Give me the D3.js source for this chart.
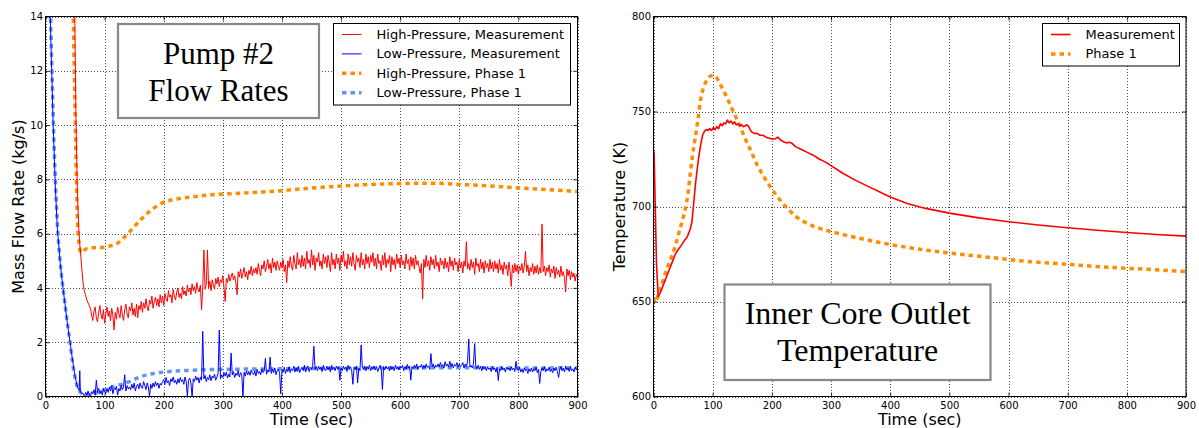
<!DOCTYPE html>
<html lang="en">
<head>
<meta charset="utf-8">
<title>Pump #2 Flow Rates / Inner Core Outlet Temperature</title>
<script src="https://d3js.org/d3.v7.min.js"></script>
<style>
  body { margin: 0; background: #fff; }
  svg { display: block; font-family: "DejaVu Sans", sans-serif; }
</style>
</head>
<body>
<svg width="1199" height="428"></svg>
<script>
// ---------- left panel: pump #2 flow rates (kg/s) ----------
const timeTicks = [0, 100, 200, 300, 400, 500, 600, 700, 800, 900];
const flowTicks = [0, 2, 4, 6, 8, 10, 12, 14];

// high-pressure, phase 1 (orange dotted)
const hpPhaseTime = [44, 47, 50.5, 54, 57, 60, 65, 70, 80, 90, 100, 110, 120, 130, 143, 150, 160, 167, 175, 185, 197, 210, 229, 250, 281, 320, 379, 440, 503, 560, 608, 650, 705, 750, 803, 850, 900];
const hpPhaseValue = [18, 14, 10, 6.5, 5.6, 5.3, 5.38, 5.45, 5.48, 5.48, 5.5, 5.55, 5.62, 5.8, 6.08, 6.25, 6.5, 6.63, 6.8, 6.97, 7.13, 7.22, 7.3, 7.36, 7.43, 7.48, 7.55, 7.66, 7.76, 7.82, 7.85, 7.86, 7.81, 7.76, 7.68, 7.62, 7.55];

// low-pressure, phase 1 (light blue dotted)
const lpPhaseTime = [4, 8.5, 11, 13.5, 17, 20.5, 25, 29, 33, 37, 41.5, 46, 50, 54, 58, 62, 70, 75, 86, 100, 109, 120, 137, 143, 160, 175, 188, 200, 216, 240, 273, 300, 400, 500, 600, 700, 800, 900];
const lpPhaseValue = [18, 14, 12, 10, 7.8, 6.2, 4.9, 4.1, 3.4, 2.7, 2.0, 1.2, 0.7, 0.35, 0.18, 0.1, 0.06, 0.06, 0.13, 0.24, 0.32, 0.4, 0.5, 0.56, 0.72, 0.82, 0.87, 0.9, 0.93, 0.96, 0.99, 1.0, 1.02, 1.04, 1.05, 1.06, 1.05, 1.06];

// high-pressure, measurement (red): steep start, then a 2 s record from t = 76
const hpMeasEarlyTime = [44, 49.5, 51.7, 54, 56, 58, 60, 61.5, 63, 65, 67.5, 70, 73];
const hpMeasEarlyValue = [20, 14, 10, 7.5, 6.3, 5.6, 5.1, 4.7, 4.3, 3.95, 3.75, 3.55, 3.4];
const hpMeasStart = 76, hpMeasStep = 2;
const hpMeasValue = [
  3.25, 3.0, 2.8, 3.15, 3.3, 2.9, 2.75, 3.1, 3.35, 3.0, 2.85, 3.2, 2.7, 3.05, 3.3, 2.95, 3.15, 2.8, 3.25, 3.0,
  2.45, 3.1, 2.85, 3.3, 3.05, 2.9, 3.35, 3.0, 2.8, 3.2, 3.4, 3.05, 2.9, 3.3, 3.15, 3.45, 3.0, 3.25, 2.95, 3.4,
  2.9, 3.35, 3.2, 3.5, 3.1, 3.45, 3.25, 3.6, 3.3, 3.15, 3.55, 3.4, 3.7, 3.25, 3.5, 3.65, 3.35, 3.6, 3.3, 3.75,
  3.45, 3.7, 3.35, 3.8, 3.6, 3.5, 3.9, 3.65, 3.75, 3.45, 3.95, 3.7, 3.55, 3.85, 4.0, 3.65, 3.8, 3.6, 4.05, 3.75,
  3.9, 3.7, 4.1, 3.85, 4.0, 3.75, 4.15, 3.9, 4.05, 3.8, 4.2, 3.95, 3.85, 4.1, 3.2, 4.0, 5.4, 3.95, 4.15, 5.4,
  4.0, 4.25, 3.9, 4.3, 4.1, 3.95, 4.35, 4.15, 4.4, 4.05, 4.3, 4.2, 4.45, 4.0, 3.5, 4.35, 4.2, 4.5, 4.25, 4.4,
  4.55, 4.3, 4.45, 4.2, 3.75, 4.6, 4.4, 4.7, 4.35, 4.55, 4.75, 4.4, 4.6, 4.3, 4.65, 4.5, 4.8, 4.45, 4.7, 4.55,
  4.75, 4.5, 4.9, 4.65, 4.45, 4.85, 4.7, 5.0, 4.6, 4.8, 5.05, 4.7, 4.9, 4.55, 5.1, 4.75, 4.95, 4.65, 5.0, 4.8,
  4.65, 4.95, 4.75, 5.05, 4.6, 4.85, 4.2, 5.0, 4.75, 5.15, 4.8, 4.65, 5.2, 4.9, 4.7, 5.3, 4.85, 5.05, 4.75, 5.2,
  4.8, 5.1, 4.7, 5.35, 4.9, 5.05, 4.75, 5.4, 4.85, 5.2, 4.65, 5.1, 4.95, 5.3, 4.8, 5.0, 4.7, 5.25, 4.9, 5.15,
  4.75, 5.2, 4.95, 4.6, 5.3, 4.85, 5.05, 4.7, 5.25, 4.9, 5.1, 4.65, 5.2, 4.95, 5.35, 4.8, 5.0, 4.7, 5.25, 4.85,
  5.15, 4.8, 5.3, 4.9, 4.65, 5.2, 4.95, 5.1, 4.75, 5.3, 4.85, 5.05, 4.7, 5.25, 4.9, 5.15, 4.75, 5.2, 4.95, 5.3,
  4.8, 5.1, 4.7, 5.25, 4.9, 5.0, 4.65, 5.2, 4.85, 5.3, 4.75, 5.05, 4.9, 5.2, 4.6, 5.15, 4.85, 5.05, 4.7, 5.25,
  4.9, 5.1, 4.75, 5.2, 4.85, 5.0, 4.7, 5.25, 4.9, 5.05, 4.65, 5.15, 4.8, 5.1, 4.7, 5.2, 4.85, 5.0, 4.75, 4.55,
  4.9, 3.6, 5.05, 4.75, 5.2, 4.8, 5.0, 4.65, 5.15, 4.85, 5.05, 4.7, 5.2, 4.8, 4.95, 4.6, 5.1, 4.85, 5.0, 4.7,
  5.1, 4.75, 4.95, 4.6, 5.15, 4.8, 5.0, 4.65, 5.1, 4.85, 4.95, 4.6, 5.05, 4.75, 4.95, 4.55, 5.0, 4.8, 5.7, 4.7,
  4.9, 4.65, 5.05, 4.75, 4.95, 4.5, 5.1, 4.8, 4.9, 4.6, 5.05, 4.7, 4.95, 4.55, 5.0, 4.75, 4.9, 4.6, 5.05, 4.7,
  4.95, 4.6, 5.0, 4.7, 4.9, 4.55, 5.05, 4.65, 4.85, 4.5, 4.95, 4.7, 4.85, 4.45, 4.95, 4.6, 4.05, 4.85, 4.55, 4.9,
  4.6, 4.85, 4.5, 4.8, 4.65, 4.9, 4.55, 4.8, 5.35, 4.6, 4.85, 4.45, 4.75, 4.6, 4.9, 4.5, 4.8, 4.55, 4.85, 4.5,
  4.75, 4.55, 6.35, 4.6, 4.8, 4.45, 4.75, 4.6, 4.85, 4.4, 4.7, 4.55, 4.8, 4.35, 4.75, 4.5, 4.65, 4.4, 4.8, 4.45,
  4.6, 4.35, 3.85, 4.7, 4.45, 4.65, 4.3, 4.6, 4.4, 4.55, 4.25, 4.5, 4.4
];

// low-pressure, measurement (blue): steep start, then a 2 s record from t = 64
const lpMeasEarlyTime = [4, 8, 10.5, 13, 16.5, 20, 25, 29, 33, 37, 41.5, 46, 50, 54, 57, 58, 59, 61];
const lpMeasEarlyValue = [18, 14, 12, 10, 7.8, 6.2, 4.9, 4.1, 3.4, 2.7, 2.0, 1.3, 0.75, 0.35, 0.22, 0.95, 0.18, 0.12];
const lpMeasStart = 64, lpMeasStep = 2;
const lpMeasValue = [
  0.1, 0.0, 0.15, 0.05, 0.2, 0.08, 0.0, 0.18, 0.1, 0.25, 0.05, 0.6, 0.15, 0.3, 0.1, 0.22, 0.05, 0.3, 0.18, 0.12,
  0.3, 0.15, 0.35, 0.2, 0.4, 0.1, 0.3, 0.25, 0.38, 0.05, 0.3, 0.2, 0.42, 0.25, 0.35, 0.8, 0.2, 0.4, 0.28, 0.35,
  0.25, 0.45, 0.3, 0.5, 0.2, 0.38, 0.45, 0.28, 0.5, 0.35, 0.3, 0.55, 0.4, 0.25, 0.5, 0.35, 0.0, 0.45, 0.3, 0.5,
  0.35, 0.55, 0.4, 0.5, 0.3, 0.48, 0.42, 0.55, 0.62, 0.45, 0.7, 0.5, 0.58, 0.4, 0.65, 0.55, 0.72, 0.5, 0.6, 0.45,
  0.65, 0.5, 0.7, 0.55, 0.62, 0.45, 0.72, 0.55, 0.0, 0.6, 0.68, 0.5, 0.0, 0.65, 0.55, 0.75, 0.6, 0.7, 0.5, 0.72,
  0.6, 2.4, 0.65, 0.78, 0.55, 0.7, 0.62, 0.8, 0.58, 0.75, 0.68, 0.82, 0.6, 0.72, 0.85, 2.45, 0.65, 0.8, 0.7, 0.88,
  0.75, 0.9, 0.68, 0.82, 0.72, 1.6, 0.8, 0.92, 0.7, 0.85, 0.78, 0.95, 0.72, 0.88, 0.82, 0.0, 0.9, 0.75, 0.95, 0.8,
  0.92, 0.78, 0.98, 0.85, 0.8, 0.95, 0.75, 1.0, 0.85, 0.92, 0.8, 1.02, 0.88, 0.95, 1.4, 0.82, 0.98, 0.9, 1.45, 0.85,
  1.0, 0.88, 1.05, 0.8, 0.95, 1.02, 0.85, 0.1, 0.98, 0.9, 1.08, 0.85, 1.0, 0.92, 1.1, 0.88, 1.02, 0.95, 1.12, 0.9,
  1.05, 0.92, 1.12, 0.88, 1.0, 1.08, 0.95, 1.15, 0.9, 1.05, 1.12, 0.92, 1.08, 0.98, 1.15, 1.85, 1.0, 1.1, 0.95, 1.12,
  1.0, 1.08, 0.92, 1.15, 1.02, 0.95, 1.12, 0.98, 1.1, 0.9, 1.15, 1.0, 1.08, 0.95, 1.12, 1.02, 1.1, 0.6, 1.05, 0.95,
  1.12, 1.0, 1.08, 0.92, 1.15, 1.02, 1.1, 0.95, 0.45, 1.08, 1.0, 1.12, 0.5, 1.05, 0.95, 1.9, 1.08, 1.0, 1.12, 0.95,
  1.1, 1.0, 1.15, 0.95, 1.08, 1.02, 1.12, 0.98, 1.1, 0.92, 1.05, 1.15, 1.0, 0.26, 1.1, 0.98, 1.12, 1.02, 1.08, 0.95,
  1.12, 1.0, 1.1, 0.95, 1.15, 1.02, 1.08, 0.98, 1.12, 1.05, 1.15, 0.95, 1.1, 1.0, 1.18, 1.05, 1.12, 0.6, 1.1, 1.02,
  1.15, 1.05, 1.2, 1.0, 1.12, 1.08, 1.18, 1.02, 1.15, 1.05, 1.2, 1.08, 1.12, 1.0, 1.58, 1.1, 1.2, 1.05, 1.15, 1.08,
  1.2, 1.08, 1.25, 1.1, 1.18, 1.05, 1.28, 1.12, 1.2, 1.08, 1.3, 1.1, 1.22, 1.05, 1.18, 1.12, 1.25, 1.08, 1.2, 1.1,
  1.15, 1.25, 1.05, 1.2, 1.1, 1.3, 2.12, 1.08, 1.15, 1.05, 1.2, 1.95, 1.1, 1.02, 1.15, 1.0, 1.12, 0.95, 1.1, 1.02,
  1.08, 0.95, 1.1, 1.0, 1.05, 0.92, 1.1, 0.98, 1.05, 0.9, 1.08, 0.59, 1.02, 0.95, 1.1, 0.98, 1.05, 0.9, 1.08, 1.0,
  1.05, 0.95, 1.1, 0.98, 1.05, 0.92, 1.3, 1.0, 0.95, 1.08, 0.9, 1.02, 0.88, 1.05, 0.95, 1.0, 0.85, 1.02, 0.92, 1.05,
  0.9, 1.02, 0.95, 1.08, 0.88, 1.0, 0.48, 0.92, 1.05, 0.95, 1.1, 0.9, 1.02, 0.95, 1.08, 0.92, 1.0, 0.88, 1.05, 0.95,
  1.08, 0.92, 0.7, 1.0, 1.1, 0.95, 1.05, 0.9, 1.12, 0.98, 1.05, 0.92, 1.1, 0.95, 1.02, 0.9, 1.08, 0.98, 1.05
];

// ---------- right panel: inner core outlet temperature (K) ----------
const tempTicks = [600, 650, 700, 750, 800];

const tempMeasTime = [0, 1, 3, 5, 8, 12, 17, 22, 27, 32, 37, 42, 47, 52, 57, 62, 65, 68, 71, 74, 77, 80, 83, 86, 89, 92, 95, 98, 101, 104, 107, 110, 113, 116, 119, 122, 125, 128, 131, 134, 137, 140, 143, 146, 149, 152, 155, 158, 161, 164, 167, 170, 175, 180, 185, 190, 195, 200, 205, 210, 215, 220, 225, 230, 235, 240, 250, 260, 270, 280, 290, 300, 320, 340, 360, 380, 400, 430, 460, 500, 550, 600, 650, 700, 750, 800, 850, 900];
const tempMeasValue = [730, 728, 700, 670, 652.5, 655, 659, 663, 667, 671, 675, 677.5, 679.5, 682, 684, 688, 692, 702, 712, 720, 727, 733, 737.5, 739.5, 740.5, 740, 741, 740, 741.5, 740.5, 742, 741, 743.5, 742.5, 744, 743.5, 745.5, 744, 745, 743.5, 744.5, 743, 743.5, 742.5, 743, 742, 742.5, 743, 742, 740, 739, 738.5, 738.5, 737.5, 737.5, 736.5, 736, 735.5, 735.5, 736.5, 735, 734, 733.5, 733.8, 733, 731.5, 730, 728.5, 727, 725, 723.5, 721.5, 717.5, 714, 711, 708, 705, 701.5, 699, 696.5, 694, 692, 690.3, 688.8, 687.5, 686.3, 685.3, 684.4];

const tempPhaseTime = [0, 2, 4, 7, 12, 18, 24, 31, 38, 45, 50, 54, 58, 62, 66, 70, 75, 80, 85, 90, 95, 100, 105, 110, 115, 120, 126, 132, 140, 148, 156, 165, 175, 185, 195, 205, 215, 228, 241, 257, 274, 300, 330, 360, 400, 450, 500, 560, 625, 690, 755, 830, 900];
const tempPhaseValue = [652, 649.5, 650, 652.5, 657, 663, 668.5, 674, 680.5, 688.6, 694, 699, 706, 717, 727, 735, 745.5, 757, 763, 766.5, 768.5, 769, 768.5, 766, 763, 760, 756, 752, 746.5, 741, 735, 729, 722, 716.5, 711.5, 707, 703, 698.5, 694.7, 691.5, 689.2, 686.8, 684.5, 682.5, 680, 677.5, 675.5, 673.5, 671.3, 669.8, 668.3, 667, 665.8];

const RED = "#ff0000", BLUE = "#0000ff", ORANGE = "#ff8c00", LIGHTBLUE = "#6495ed";

const svg = d3.select("svg");

function pairs(times, values) {
  return times.map((t, i) => [t, values[i]]);
}
function stepped(start, step, values) {
  return values.map((v, i) => [start + i * step, v]);
}

function drawPanel(p) {
  const x = d3.scaleLinear().domain([0, 900]).range([p.left, p.right]);
  const y = d3.scaleLinear().domain(p.yDomain).range([396.5, 16.5]);
  const g = svg.append("g");

  // dotted grid
  const grid = g.append("g")
    .attr("stroke", "#222").attr("stroke-width", 0.8)
    .attr("stroke-dasharray", "1,2").attr("shape-rendering", "crispEdges");
  grid.selectAll(".gx").data(timeTicks).join("line")
    .attr("x1", d => Math.round(x(d)) + 0.5).attr("x2", d => Math.round(x(d)) + 0.5)
    .attr("y1", y.range()[0]).attr("y2", y.range()[1]);
  grid.selectAll(".gy").data(p.yTicks).join("line")
    .attr("y1", d => Math.round(y(d)) + 0.5).attr("y2", d => Math.round(y(d)) + 0.5)
    .attr("x1", p.left).attr("x2", p.right);

  // data
  const clipId = "clip" + p.id;
  svg.append("clipPath").attr("id", clipId).append("rect")
    .attr("x", p.left).attr("y", 16.5)
    .attr("width", p.right - p.left).attr("height", 380);
  const plot = g.append("g").attr("clip-path", `url(#${clipId})`);
  const line = d3.line().x(d => x(d[0])).y(d => y(d[1]));

  p.series.forEach(s => {
    plot.append("path")
      .datum(s.data)
      .attr("fill", "none")
      .attr("stroke", s.color)
      .attr("stroke-width", s.width)
      .attr("stroke-dasharray", s.dash || null)
      .attr("stroke-linejoin", "round")
      .attr("d", s.smooth ? line.curve(d3.curveMonotoneX)(s.data) : line.curve(d3.curveLinear)(s.data));
  });

  // axes with inward ticks on all four sides
  const fmt = d3.format("d");
  const styleAxis = sel => {
    sel.select(".domain").remove();
    sel.selectAll("line").attr("stroke", "#000").attr("stroke-width", 0.8);
    sel.selectAll("text").attr("font-size", 10).attr("fill", "#000")
      .attr("font-family", "'DejaVu Sans', sans-serif");
  };
  g.append("g").attr("transform", "translate(0,396.5)")
    .call(d3.axisBottom(x).tickValues(timeTicks).tickFormat(fmt).tickSizeInner(-4).tickSizeOuter(0).tickPadding(5))
    .call(styleAxis);
  g.append("g").attr("transform", "translate(0,16.5)")
    .call(d3.axisTop(x).tickValues(timeTicks).tickFormat("").tickSizeInner(-4).tickSizeOuter(0))
    .call(styleAxis);
  g.append("g").attr("transform", `translate(${p.left},0)`)
    .call(d3.axisLeft(y).tickValues(p.yTicks).tickFormat(fmt).tickSizeInner(-4).tickSizeOuter(0).tickPadding(2.5))
    .call(styleAxis);
  g.append("g").attr("transform", `translate(${p.right},0)`)
    .call(d3.axisRight(y).tickValues(p.yTicks).tickFormat("").tickSizeInner(-4).tickSizeOuter(0))
    .call(styleAxis);

  // frame
  g.append("rect")
    .attr("x", p.left).attr("y", 16.5)
    .attr("width", p.right - p.left).attr("height", 380)
    .attr("fill", "none").attr("stroke", "#000").attr("stroke-width", 1);

  // axis titles
  g.append("text")
    .attr("x", (p.left + p.right) / 2).attr("y", 424.5)
    .attr("text-anchor", "middle").attr("font-size", 16)
    .text("Time (sec)");
  g.append("text")
    .attr("transform", `translate(${p.yTitleX},206.5) rotate(-90)`)
    .attr("text-anchor", "middle").attr("font-size", 16)
    .text(p.yTitle);

  // title box
  const tb = p.titleBox;
  g.append("rect")
    .attr("x", tb.x).attr("y", tb.y).attr("width", tb.w).attr("height", tb.h)
    .attr("fill", "#fff").attr("stroke", "#888").attr("stroke-width", 2.2);
  tb.lines.forEach((t, i) => {
    g.append("text")
      .attr("x", tb.x + tb.w / 2).attr("y", tb.baselines[i])
      .attr("text-anchor", "middle")
      .attr("font-family", "'Liberation Serif', 'Times New Roman', serif")
      .attr("font-size", tb.size)
      .text(t);
  });

  // legend
  const lg = p.legend;
  g.append("rect")
    .attr("x", lg.x).attr("y", lg.y).attr("width", lg.w).attr("height", lg.h)
    .attr("fill", "#fff").attr("stroke", "#000").attr("stroke-width", 1);
  const items = p.series.filter(s => s.label).sort((a, b) => a.order - b.order);
  items.forEach((s, i) => {
    const yy = lg.y + 11 + i * 19.4;
    g.append("line")
      .attr("x1", lg.x + 8.5).attr("x2", lg.x + 28)
      .attr("y1", yy).attr("y2", yy)
      .attr("stroke", s.color).attr("stroke-width", s.width)
      .attr("stroke-dasharray", s.dash || null);
    g.append("text")
      .attr("x", lg.x + 43).attr("y", yy + 4.5)
      .attr("font-size", 13)
      .text(s.label);
  });
}

drawPanel({
  id: "flow", left: 45.5, right: 577.5,
  yDomain: [0, 14], yTicks: flowTicks,
  yTitle: "Mass Flow Rate (kg/s)", yTitleX: 23.5,
  titleBox: { x: 118, y: 24, w: 201, h: 94, lines: ["Pump #2", "Flow Rates"], baselines: [63.5, 101], size: 31 },
  legend: { x: 333.5, y: 23.5, w: 237, h: 81.5 },
  series: [
    { data: pairs(hpPhaseTime, hpPhaseValue), color: ORANGE, width: 3.5, dash: "4.5,4", smooth: true, label: "High-Pressure, Phase 1", order: 2 },
    { data: pairs(lpPhaseTime, lpPhaseValue), color: LIGHTBLUE, width: 3.5, dash: "4.5,4", smooth: true, label: "Low-Pressure, Phase 1", order: 3 },
    { data: pairs(hpMeasEarlyTime, hpMeasEarlyValue).concat(stepped(hpMeasStart, hpMeasStep, hpMeasValue)), color: RED, width: 1, label: "High-Pressure, Measurement", order: 0 },
    { data: pairs(lpMeasEarlyTime, lpMeasEarlyValue).concat(stepped(lpMeasStart, lpMeasStep, lpMeasValue)), color: BLUE, width: 1, label: "Low-Pressure, Measurement", order: 1 }
  ]
});

drawPanel({
  id: "temp", left: 653.5, right: 1186,
  yDomain: [600, 800], yTicks: tempTicks,
  yTitle: "Temperature (K)", yTitleX: 624.5,
  titleBox: { x: 724.5, y: 284.5, w: 266, h: 95.5, lines: ["Inner Core Outlet", "Temperature"], baselines: [323.5, 360.5], size: 32 },
  legend: { x: 1042.5, y: 23.5, w: 137, h: 42.5 },
  series: [
    { data: pairs(tempPhaseTime, tempPhaseValue), color: ORANGE, width: 3.5, dash: "4.5,4", smooth: true, label: "Phase 1", order: 1 },
    { data: pairs(tempMeasTime, tempMeasValue), color: RED, width: 1.6, label: "Measurement", order: 0 }
  ]
});
</script>
</body>
</html>
